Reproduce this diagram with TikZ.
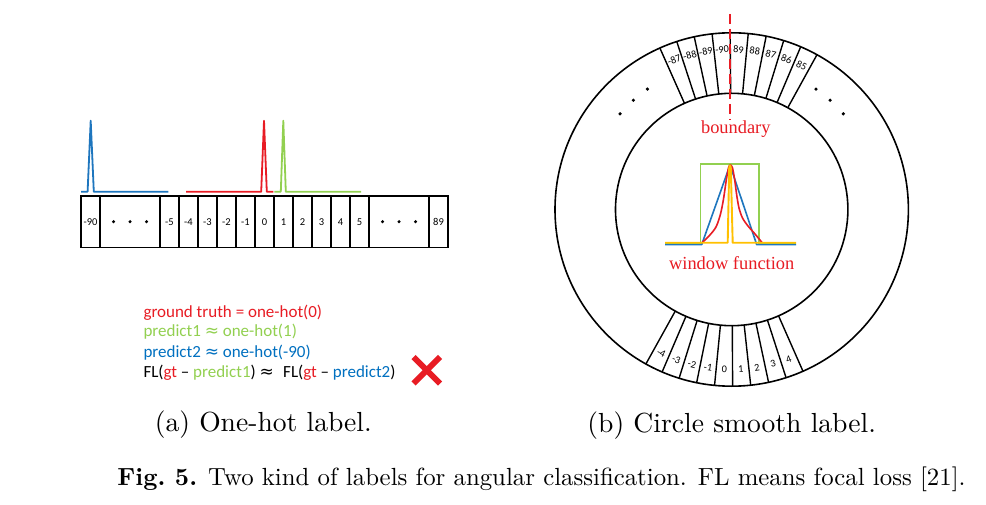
\documentclass[tikz,border=0pt]{standalone}
\usepackage{fontspec}
\usetikzlibrary{calc}
\newfontfamily\calfont{Carlito}
\newfontfamily\serifx{Liberation Serif}
\newfontfamily\dejav{DejaVu Sans}
\newfontfamily\capfont{lmroman10-regular.otf}[BoldFont=lmroman10-bold.otf]
\definecolor{cred}{RGB}{232,28,36}
\definecolor{cgreen}{RGB}{146,208,80}
\definecolor{cblue}{RGB}{0,112,192}
\definecolor{lblue}{RGB}{30,118,190}
\definecolor{cyellow}{RGB}{255,192,0}
\begin{document}
\begin{tikzpicture}[x=1pt,y=1pt,
  cell/.style={draw=black, line width=1.5pt},
  ring/.style={draw=black, line width=1.6pt},
  spoke/.style={draw=black, line width=1.4pt},
  lbl/.style={font=\calfont\fontsize{10.5}{12}\selectfont, inner sep=0pt},
  rlbl/.style={font=\calfont\fontsize{10.3}{12}\selectfont, inner sep=0pt},
  txt/.style={font=\calfont\fontsize{17}{20}\selectfont, anchor=base west, inner sep=0pt},
  redtxt/.style={font=\serifx\fontsize{18.4}{22}\selectfont, text=cred, anchor=base, inner sep=0pt},
  peak/.style={line width=1.8pt, line join=round},
  subcap/.style={font=\capfont\fontsize{27.6}{32}\selectfont, anchor=base, inner sep=0pt},
  dotm/.style={fill=black}
]
\useasboundingbox (0,-505) rectangle (986,0);
\fill[white] (0,-505) rectangle (986,0);

% ---------- (a) one-hot strip ----------
\draw[cell] (81,-196) rectangle (448,-247.7);
\foreach \x in {100,160,179,198,...,369,429}
  \draw[cell] (\x,-196) -- (\x,-247.7);
\node[lbl] (lm90) at (90.5,-222) {-90};
\foreach \v [count=\i from 0] in {-5,-4,-3,-2,-1,0,1,2,3,4,5}
  \node[lbl] (s\i) at ({169.5+19*\i},-222) {\v};
\node[lbl] (l89) at (438.5,-222) {89};
\foreach \x in {113.5,130,146.5,382.5,399,415.5}
  \fill[dotm] (\x,-221.7) circle (1.7);

% peaks
\draw[peak, lblue] (81,-191.7) -- (87.6,-191.7) -- (90.7,-120.7) -- (93.8,-191.7) -- (168.3,-191.7);
\draw[peak, cred] (186,-191.7) -- (261.2,-191.7) -- (264,-120.7) -- (266.8,-191.7) -- (273.3,-191.7);
\draw[peak, cgreen] (274.3,-191.7) -- (280.8,-191.7) -- (283.3,-120.7) -- (285.8,-191.7) -- (361,-191.7);

% text lines
\node[txt, text=cred] (t1) at (143.3,-317) {ground truth = one-hot(0)};
\node[txt, text=cgreen] (t2) at (143.3,-337) {predict1 {\dejav ≈} one-hot(1)};
\node[txt, text=cblue] (t3) at (143.3,-357) {predict2 {\dejav ≈} one-hot(-90)};
\node[txt, text=black] (t4) at (143.3,-377) {FL(\textcolor{cred}{gt} – \textcolor{cgreen}{predict1}) {\dejav ≈}\hspace{0.55em}FL(\textcolor{cred}{gt} – \textcolor{cblue}{predict2})};
\draw[cred, line width=5.8pt] (413.5,-357) -- (440,-383.5);
\draw[cred, line width=5.8pt] (440,-357) -- (413.5,-383.5);

\node[subcap] (capa) at (263.3,-431.7) {(a) One-hot label.};

% ---------- (b) circle ----------
\coordinate (C) at (731.7,-209.5);
\draw[ring] (C) circle (176.7);
\draw[ring] (C) circle (116.2);
\foreach \k in {-5,...,4}{
  \draw[spoke] ([shift={({90.5+\k*5.87}:116.2)}]C) -- ([shift={({90.5+\k*5.87}:176.7)}]C);
  \draw[spoke] ([shift={({270.3+\k*5.87}:116.2)}]C) -- ([shift={({270.3+\k*5.87}:176.7)}]C);
}
\foreach \v [count=\i from 0] in {85,86,87,88,89,-90,-89,-88,-87}{
  \pgfmathsetmacro\a{90.5+(\i-4.5)*5.87}
  \node[rlbl, rotate=\a-90] (top\i) at ([shift={(\a:160)}]C) {\v};
}
\foreach \v [count=\i from 0] in {-4,-3,-2,-1,0,1,2,3,4}{
  \pgfmathsetmacro\a{270.3+(\i-4.5)*5.87}
  \node[rlbl, rotate=\a+90] (bot\i) at ([shift={(\a:160)}]C) {\v};
}
\foreach \a in {125,132,139.4,55,48,40.6}
  \fill[dotm] ([shift={(\a:147)}]C) circle (1.8);

% boundary
\draw[cred, line width=2.7pt, dash pattern=on 10pt off 5pt] (730,-14) -- (730,-120);
\node[redtxt] (bnd) at (735.8,-133.3) {boundary};

% window functions
\draw[cgreen, line width=1.6pt] (665,-243.3) -- (700.3,-243.3) -- (700.3,-164.3) -- (759,-164.3) -- (759,-243.3) -- (796,-243.3);
\draw[lblue, line width=1.6pt, line join=round] (665,-244.6) -- (701.7,-244.6) -- (730,-165) -- (756.7,-244.6) -- (796,-244.6);
\draw[cred, line width=1.6pt] plot[smooth, tension=0.5] coordinates {(702,-242.7) (709,-236) (716,-227) (720.5,-214) (723.5,-199) (726.3,-180) (728.5,-168) (730.3,-165) (732.5,-168) (734.7,-180) (736.7,-195) (739,-208) (742.5,-218) (748,-226) (755,-234) (762,-242.5)};
\draw[cyellow, line width=1.9pt, line join=round] (665,-242.8) -- (727.7,-242.8) -- (729.2,-168) .. controls (729.6,-164.5) and (730.4,-164.5) .. (730.8,-168) -- (732.7,-242.8) -- (796,-242.8);
\node[redtxt] (wf) at (731.7,-270) {window function};

\node[subcap] (capb) at (731.7,-432) {(b) Circle smooth label.};

% ---------- figure caption ----------
\node[font=\capfont\fontsize{24.8}{30}\selectfont, anchor=base, inner sep=0pt] (fig) at (541.5,-485) {\textbf{Fig.~5.} Two kind of labels for angular classification. FL means focal loss [21].};
\end{tikzpicture}
\end{document}
